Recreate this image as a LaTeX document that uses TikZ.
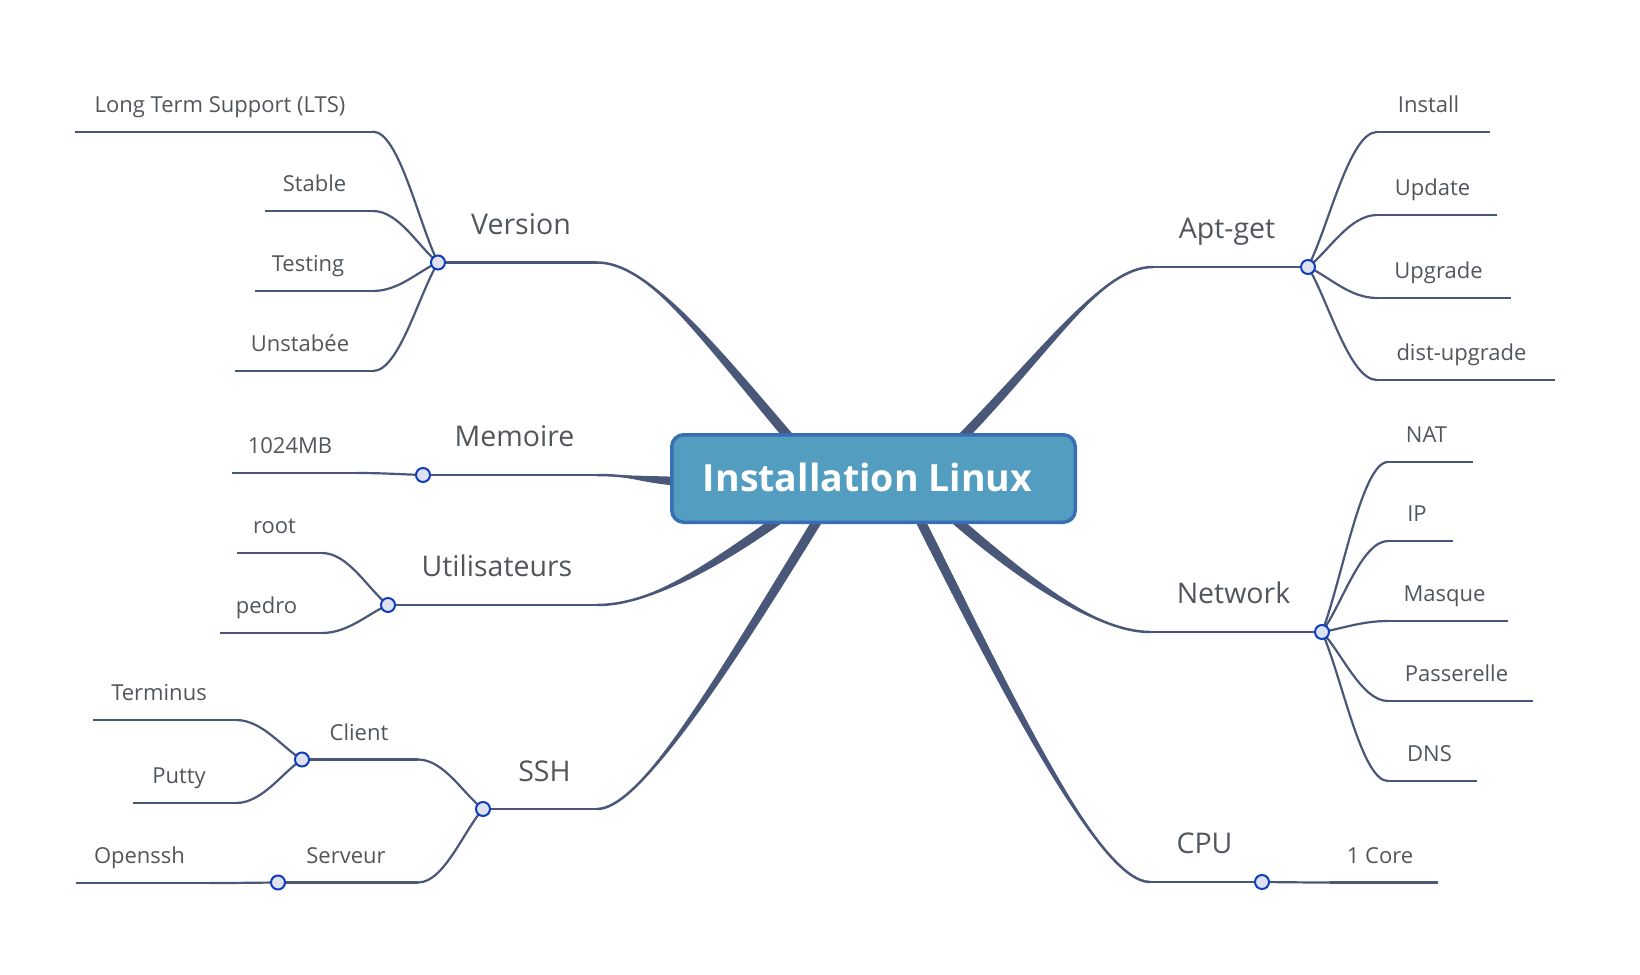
\documentclass[tikz,border=0pt]{standalone}
\usepackage{fontspec}
\setmainfont{Open Sans}
\usetikzlibrary{calc}
\definecolor{brc}{RGB}{73,87,121}
\definecolor{txt}{RGB}{80,86,92}
\definecolor{dotfill}{RGB}{222,226,238}
\definecolor{dotdraw}{RGB}{16,60,190}
\definecolor{boxfill}{RGB}{82,157,192}
\definecolor{boxdraw}{RGB}{58,110,178}
\newcommand\brw{4.8pt}
% leaf: name, x-left, x-right, y of line, x of text centre, text
\newcommand\leafline[6]{%
  \coordinate (#1L) at (#2,#4);
  \coordinate (#1R) at (#3,#4);
  \draw[thinline] (#1L) -- (#1R);
  \node[leaftext] (#1) at (#5,#4-19.5) {#6};}
% curved connector: horizontal at #1, straight-ish into #2
\newcommand\clink[2]{%
  \draw[thinline] (#1) .. controls ($(#1)!0.4!(#2|-#1)$) and ($(#2)!0.3!(#1)$) .. (#2);}
% tapered main branch
\newcommand\taper[4]{%
  \fill[brc] (#1) .. controls (#2) and ($(#3)!\brw!-90:(#4)$) .. ($(#4)!\brw!90:(#3)$)
     -- ($(#4)!\brw!-90:(#3)$) .. controls ($(#3)!\brw!90:(#4)$) and (#2) .. (#1) -- cycle;
  \draw[brc,line width=2.5pt] (#1) .. controls (#2) and (#3) .. (#4);}
\begin{document}
\begin{tikzpicture}[x=1pt,y=-1pt,
  thinline/.style={draw=brc,line width=2.2pt},
  leaftext/.style={text=txt,font=\fontsize{22}{24}\selectfont,anchor=base,inner sep=0pt},
  brtext/.style={text=txt,font=\fontsize{28.5}{31}\selectfont,anchor=base,inner sep=0pt},
  dot/.style={circle,draw=dotdraw,fill=dotfill,line width=2pt,minimum size=14pt,inner sep=0pt},
  rootbox/.style={draw=boxdraw,fill=boxfill,line width=3.5pt,rounded corners=12pt,
    minimum width=403.5pt,minimum height=87.5pt},
  roottext/.style={text=white,anchor=base,inner sep=0pt,
    font=\fontsize{37.5}{40}\selectfont\bfseries}]
\useasboundingbox (0,0) rectangle (1640,974);

% ---------- main tapered branches ----------
\coordinate (vP0) at (597,262.5); \coordinate (vP1) at (650,262.5);
\coordinate (vP2) at (710,345);   \coordinate (vP3) at (800,450);
\coordinate (mP0) at (597,475);   \coordinate (mP1) at (630,475);
\coordinate (mP2) at (645,481);   \coordinate (mP3) at (700,482);
\coordinate (uP0) at (597,605);   \coordinate (uP1) at (650,605);
\coordinate (uP2) at (710,568);   \coordinate (uP3) at (785,515);
\coordinate (sP0) at (597,809);   \coordinate (sP1) at (640,809);
\coordinate (sP2) at (720,680);   \coordinate (sP3) at (830,500);
\coordinate (aP0) at (1153,267);  \coordinate (aP1) at (1100,267);
\coordinate (aP2) at (1048,352);  \coordinate (aP3) at (945,455);
\coordinate (nP0) at (1150,632);  \coordinate (nP1) at (1100,632);
\coordinate (nP2) at (1030,585);  \coordinate (nP3) at (950,515);
\coordinate (pP0) at (1150,882);  \coordinate (pP1) at (1100,882);
\coordinate (pP2) at (1010,700);  \coordinate (pP3) at (910,500);
\taper{vP0}{vP1}{vP2}{vP3}
\taper{mP0}{mP1}{mP2}{mP3}
\taper{uP0}{uP1}{uP2}{uP3}
\taper{sP0}{sP1}{sP2}{sP3}
\taper{aP0}{aP1}{aP2}{aP3}
\taper{nP0}{nP1}{nP2}{nP3}
\taper{pP0}{pP1}{pP2}{pP3}

% ---------- branch hubs ----------
\coordinate (cV) at (438,262.5);
\coordinate (cM) at (423,475);
\coordinate (cU) at (388,605);
\coordinate (cS) at (483,809);
\coordinate (cC) at (302,759.5);
\coordinate (cSv) at (278,882.5);
\coordinate (cA) at (1308,267);
\coordinate (cN) at (1322,632);
\coordinate (cP) at (1262,882);

\draw[thinline] (cV) -- (vP0);
\draw[thinline] (cM) -- (mP0);
\draw[thinline] (cU) -- (uP0);
\draw[thinline] (cS) -- (sP0);
\draw[thinline] (cA) -- (aP0);
\draw[thinline] (cN) -- (nP0);
\draw[thinline] (cP) -- (pP0);

% ---------- Version ----------
\leafline{lts}{75}{373}{131.7}{220}{Long Term Support (LTS)}
\leafline{stable}{265}{373}{211}{314.5}{Stable}
\leafline{testing}{255}{373}{291}{308}{Testing}
\leafline{unst}{235}{373}{371}{300}{Unstabée}
\clink{ltsR}{cV} \clink{stableR}{cV} \clink{testingR}{cV} \clink{unstR}{cV}

% ---------- Memoire ----------
\leafline{mb}{232}{357}{473}{290}{1024MB}
\clink{mbR}{cM}

% ---------- Utilisateurs ----------
\leafline{root}{237}{322}{553}{274.5}{root}
\leafline{pedro}{220}{322}{633}{266.5}{pedro}
\clink{rootR}{cU} \clink{pedroR}{cU}

% ---------- SSH ----------
\coordinate (clientR) at (418,759.5);
\coordinate (serveurR) at (418,882.5);
\draw[thinline] (cC) -- (clientR);
\draw[thinline] (cSv) -- (serveurR);
\clink{clientR}{cS} \clink{serveurR}{cS}
\node[leaftext] (client) at (359,740) {Client};
\node[leaftext] (serveur) at (346,863) {Serveur};
\leafline{term}{93}{236}{720}{159}{Terminus}
\leafline{putty}{133}{236}{803}{179}{Putty}
\clink{termR}{cC} \clink{puttyR}{cC}
\leafline{openssh}{76}{209}{883}{139.5}{Openssh}
\clink{opensshR}{cSv}

% ---------- Apt-get ----------
\leafline{install}{1490}{1377}{132}{1428.5}{Install}
\leafline{update}{1497}{1377}{215}{1432.5}{Update}
\leafline{upgrade}{1511}{1377}{298}{1438.5}{Upgrade}
\leafline{dist}{1555}{1377}{380}{1461.5}{dist-upgrade}
\clink{installR}{cA} \clink{updateR}{cA} \clink{upgradeR}{cA} \clink{distR}{cA}

% ---------- Network ----------
\leafline{nat}{1473}{1388}{462}{1426.5}{NAT}
\leafline{ip}{1453}{1388}{541}{1417}{IP}
\leafline{masque}{1508}{1388}{621}{1444.5}{Masque}
\leafline{pass}{1533}{1388}{701}{1456.5}{Passerelle}
\leafline{dns}{1477}{1388}{781}{1429.5}{DNS}
\clink{natR}{cN} \clink{ipR}{cN} \clink{masqueR}{cN} \clink{passR}{cN} \clink{dnsR}{cN}

% ---------- CPU ----------
\leafline{core}{1438}{1330}{882.5}{1380}{1 Core}
\clink{coreR}{cP}

% ---------- hub dots ----------
\foreach \c in {cV,cM,cU,cS,cC,cSv,cA,cN,cP}
  \node[dot] at (\c) {};

% ---------- branch labels ----------
\node[brtext] (version) at (521,234) {Version};
\node[brtext] (memoire) at (514.5,446.5) {Memoire};
\node[brtext] (users) at (497,576.5) {Utilisateurs};
\node[brtext] (ssh) at (544.5,781) {SSH};
\node[brtext] (aptget) at (1227,238.5) {Apt-get};
\node[brtext] (network) at (1233.5,603.5) {Network};
\node[brtext] (cpu) at (1204.5,853.5) {CPU};

% ---------- central topic ----------
\node[rootbox] (center) at (873.5,478.5) {};
\node[roottext] (centerlabel) at (867.5,491.7) {Installation Linux};
\end{tikzpicture}
\end{document}
